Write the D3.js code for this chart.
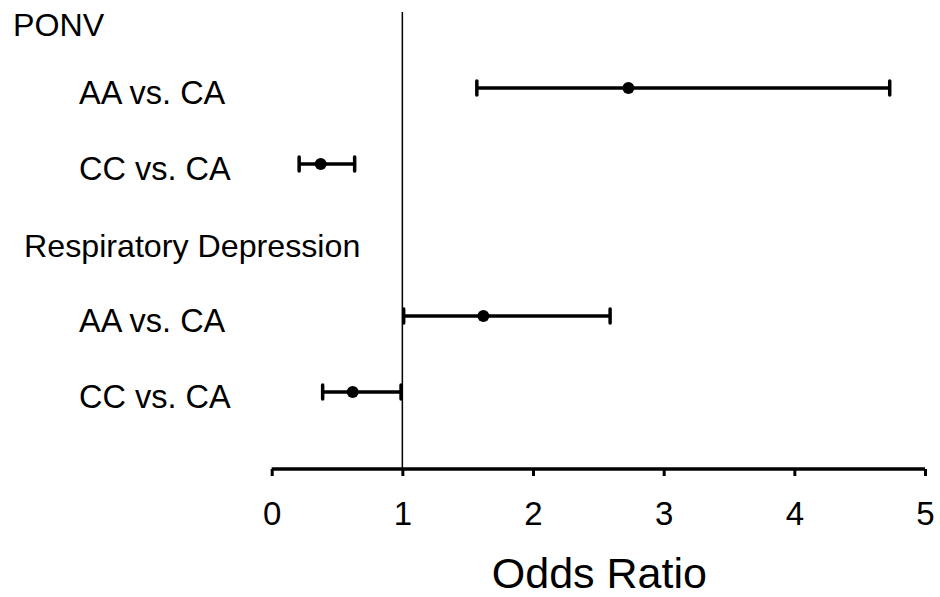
<!DOCTYPE html>
<html>
<head>
<meta charset="utf-8">
<script src="https://cdn.jsdelivr.net/npm/d3@7"></script>
<style>
  html, body { margin: 0; padding: 0; background: #fff; }
  svg { display: block; font-family: "Liberation Sans", Arial, sans-serif; }
</style>
</head>
<body>
<svg id="chart" width="940" height="597"></svg>
<script>
// Data
const groups = ["PONV", "Respiratory Depression"];
const groupRows = [0, 3];
const comparisons = ["AA vs. CA", "CC vs. CA", "AA vs. CA", "CC vs. CA"];
const compRows = [1, 2, 4, 5];
const oddsRatio = [2.73, 0.375, 1.62, 0.62];
const ciLower = [1.57, 0.21, 1.01, 0.39];
const ciUpper = [4.73, 0.635, 2.59, 0.99];
const xTicks = [0, 1, 2, 3, 4, 5];
const xTitle = "Odds Ratio";

const svg = d3.select("#chart");
const x = d3.scaleLinear().domain([0, 5]).range([271.7, 925]);
const y = d3.scaleLinear().domain([0, 5]).range([12, 392]);
const axisY = 469;

// reference line at OR = 1
svg.append("line")
  .attr("x1", x(1)).attr("x2", x(1))
  .attr("y1", 12).attr("y2", axisY)
  .attr("stroke", "#000").attr("stroke-width", 1.5);

// x axis
const axis = d3.axisBottom(x).tickValues(xTicks).tickSize(7).tickPadding(26).tickFormat(d3.format("d"));
const gAxis = svg.append("g").attr("transform", `translate(0,${axisY})`).call(axis);
gAxis.select(".domain").attr("stroke", "#000").attr("stroke-width", 3.5)
  .attr("d", `M${x(0)},0H${x(5)}`);
gAxis.selectAll(".tick line").attr("stroke", "#000").attr("stroke-width", 3);
gAxis.selectAll(".tick text")
  .attr("font-family", "Liberation Sans, Arial, sans-serif")
  .attr("font-size", 33).attr("fill", "#000");

// x title
svg.append("text")
  .attr("x", (x(0) + x(5)) / 2 + 1).attr("y", 588)
  .attr("text-anchor", "middle")
  .attr("font-size", 43).attr("fill", "#000")
  .text(xTitle);

// group headers
const headerX = [13, 24];
const headerDy = [24, 17];
svg.selectAll(".hdr").data(groups).enter().append("text")
  .attr("class", "hdr")
  .attr("x", (d, i) => headerX[i])
  .attr("y", (d, i) => y(groupRows[i]) + headerDy[i])
  .attr("font-size", 32.2).attr("fill", "#000")
  .text(d => d);

// comparison labels
svg.selectAll(".lbl").data(comparisons).enter().append("text")
  .attr("class", "lbl")
  .attr("x", 79)
  .attr("y", (d, i) => y(compRows[i]) + 16)
  .attr("font-size", 32.5).attr("fill", "#000")
  .text(d => d);

// error bars
const rows = comparisons.map((c, i) => ({ row: compRows[i], or: oddsRatio[i], lo: ciLower[i], hi: ciUpper[i] }));
const g = svg.append("g");
const bar = g.selectAll(".bar").data(rows).enter().append("g").attr("class", "bar");
bar.append("line")
  .attr("x1", d => x(d.lo)).attr("x2", d => x(d.hi))
  .attr("y1", d => y(d.row)).attr("y2", d => y(d.row))
  .attr("stroke", "#000").attr("stroke-width", 3.5);
bar.append("line")
  .attr("x1", d => x(d.lo)).attr("x2", d => x(d.lo))
  .attr("y1", d => y(d.row) - 7).attr("y2", d => y(d.row) + 7)
  .attr("stroke", "#000").attr("stroke-width", 3.5).attr("stroke-linecap", "round");
bar.append("line")
  .attr("x1", d => x(d.hi)).attr("x2", d => x(d.hi))
  .attr("y1", d => y(d.row) - 7).attr("y2", d => y(d.row) + 7)
  .attr("stroke", "#000").attr("stroke-width", 3.5).attr("stroke-linecap", "round");
bar.append("circle")
  .attr("cx", d => x(d.or)).attr("cy", d => y(d.row))
  .attr("r", 6).attr("fill", "#000");
</script>
</body>
</html>
